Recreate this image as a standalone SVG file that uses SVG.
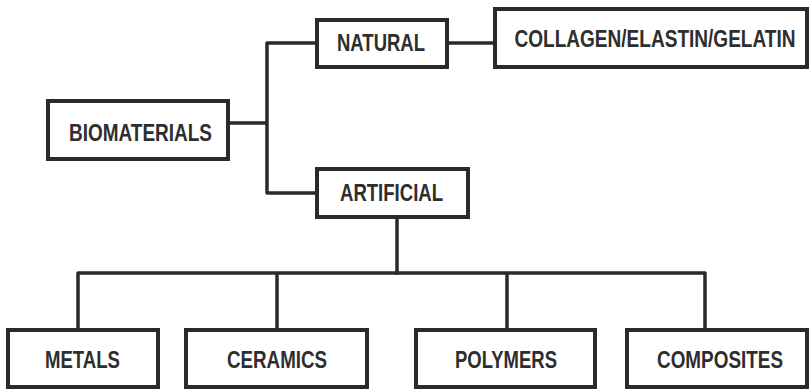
<svg xmlns="http://www.w3.org/2000/svg" width="810" height="391" viewBox="0 0 810 391">
<style>
.box{fill:#fff;stroke:#2a2a2a;stroke-width:4}
.lbl{font-family:"Liberation Sans",Arial,sans-serif;font-weight:bold;font-size:23px;fill:#2e2e2e;text-anchor:middle}
.con{fill:none;stroke:#2a2a2a;stroke-width:3.5;stroke-linejoin:round;stroke-linecap:square}
</style>
<rect width="810" height="391" fill="#fff"/>
<g id="connectors">
<path class="con" d="M228 123 H267 M317 43 H267 V193 H317"/>
<path class="con" d="M447 43 H495"/>
<path class="con" d="M397 217 V273"/>
<path class="con" d="M78 330 V273 H705 V330 M277 273 V330 M507 273 V330"/>
</g>
<g id="biomaterials">
<rect class="box" x="48" y="101" width="180" height="58"/>
<text class="lbl" x="140.5" y="141" textLength="143" lengthAdjust="spacingAndGlyphs">BIOMATERIALS</text>
</g>
<g id="natural">
<rect class="box" x="317" y="20" width="130" height="47"/>
<text class="lbl" x="381" y="50.5" textLength="88" lengthAdjust="spacingAndGlyphs">NATURAL</text>
</g>
<g id="collagen">
<rect class="box" x="495" y="9" width="312" height="58"/>
<text class="lbl" transform="translate(655,47) scale(0.828,1)" x="0" y="0" font-size="25">COLLAGEN/ELASTIN/GELATIN</text>
</g>
<g id="artificial">
<rect class="box" x="317" y="169" width="151" height="48"/>
<text class="lbl" x="391.5" y="200.5" textLength="103" lengthAdjust="spacingAndGlyphs">ARTIFICIAL</text>
</g>
<g id="metals">
<rect class="box" x="8" y="330" width="150" height="57"/>
<text class="lbl" x="82.5" y="368" font-size="25" textLength="75" lengthAdjust="spacingAndGlyphs">METALS</text>
</g>
<g id="ceramics">
<rect class="box" x="186" y="330" width="181" height="57"/>
<text class="lbl" x="277" y="368" font-size="25" textLength="100" lengthAdjust="spacingAndGlyphs">CERAMICS</text>
</g>
<g id="polymers">
<rect class="box" x="416" y="330" width="179" height="57"/>
<text class="lbl" x="506" y="368" font-size="25" textLength="102" lengthAdjust="spacingAndGlyphs">POLYMERS</text>
</g>
<g id="composites">
<rect class="box" x="627" y="330" width="180" height="57"/>
<text class="lbl" x="720" y="368" font-size="25" textLength="126" lengthAdjust="spacingAndGlyphs">COMPOSITES</text>
</g>
</svg>
